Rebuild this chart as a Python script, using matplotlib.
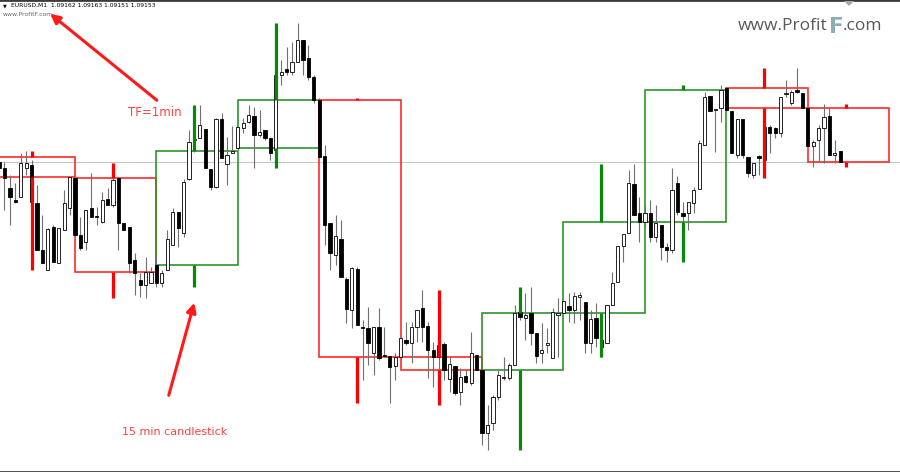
import matplotlib
matplotlib.use("Agg")
import matplotlib.pyplot as plt
import numpy as np
import pandas as pd
from matplotlib.patches import Rectangle, Polygon

# EURUSD M1 bars, prices in points above 1.08800 (1 point = 0.00001)
BASE = 1.088
POINT = 1e-5
BID = 1.09153

open_pts = [
    358, 353, 347, 327, 315, 318, 347, 350, 312, 265, 245, 288, 252, 285, 307,
    337, 280, 273, 307, 299, 293, 316, 310, 337, 292, 288, 255, 235, 230, 232,
    250, 232, 245, 270, 303, 282, 336, 375, 377, 386, 346, 328, 396, 351, 362,
    367, 387, 393, 399, 380, 385, 377, 365, 440, 446, 443, 453, 475, 457, 438,
    415, 359, 292, 260, 276, 236, 205, 246, 188, 187, 162, 188, 160, 159, 149,
    158, 175, 172, 188, 207, 189, 165, 158, 171, 136, 149, 123, 139, 132, 160,
    145, 82, 92, 118, 137, 137, 150, 203, 197, 202, 182, 162, 170, 157, 200,
    202, 209, 205, 218, 213, 172, 197, 175, 172, 210, 233, 269, 282, 331, 302,
    293, 302, 278, 290, 268, 265, 332, 302, 302, 312, 326, 370, 419, 405, 407,
    427, 404, 360, 396, 358, 340, 359, 355, 388, 387, 382, 421, 412, 425, 422,
    407, 369, 375, 387, 399, 360, 364,
]
high_pts = [
    360, 357, 353, 340, 332, 362, 364, 355, 330, 300, 287, 290, 287, 325, 338,
    339, 298, 305, 342, 308, 323, 327, 352, 337, 292, 288, 262, 242, 258, 248,
    257, 245, 285, 307, 303, 336, 385, 385, 410, 386, 346, 397, 402, 378, 389,
    388, 397, 410, 408, 405, 385, 377, 440, 455, 468, 473, 492, 475, 470, 440,
    417, 370, 292, 300, 295, 238, 248, 248, 195, 208, 188, 207, 188, 159, 162,
    177, 193, 193, 205, 225, 193, 173, 175, 173, 158, 149, 147, 145, 183, 160,
    145, 110, 120, 145, 158, 152, 210, 210, 222, 228, 182, 192, 187, 207, 217,
    214, 222, 223, 223, 213, 205, 212, 177, 210, 243, 269, 281, 345, 351, 318,
    310, 315, 310, 290, 272, 347, 339, 313, 313, 328, 375, 423, 419, 406, 430,
    427, 404, 396, 396, 358, 352, 360, 390, 390, 388, 418, 435, 425, 447, 422,
    407, 375, 390, 411, 408, 375, 364,
]
low_pts = [
    349, 320, 305, 290, 312, 318, 340, 312, 265, 252, 245, 253, 252, 285, 300,
    280, 265, 265, 298, 290, 292, 310, 308, 265, 285, 242, 220, 218, 217, 232,
    228, 228, 245, 270, 268, 278, 335, 363, 377, 347, 325, 327, 357, 330, 362,
    365, 382, 392, 347, 378, 375, 355, 362, 430, 440, 440, 453, 440, 435, 412,
    358, 270, 245, 250, 238, 192, 187, 190, 135, 150, 140, 155, 158, 112, 135,
    157, 170, 152, 173, 173, 137, 128, 145, 135, 123, 120, 110, 132, 130, 145,
    70, 65, 85, 115, 135, 135, 150, 195, 175, 170, 152, 152, 162, 157, 158,
    202, 193, 192, 195, 162, 162, 168, 158, 172, 210, 233, 253, 282, 300, 273,
    287, 273, 273, 255, 253, 262, 300, 285, 285, 302, 326, 370, 404, 363, 393,
    405, 362, 357, 357, 338, 337, 340, 355, 362, 377, 378, 418, 410, 422, 407,
    369, 348, 353, 352, 360, 352, 353,
]
close_pts = [
    353, 347, 337, 318, 313, 352, 352, 313, 265, 252, 286, 253, 287, 312, 338,
    280, 267, 305, 298, 298, 315, 310, 335, 292, 285, 252, 242, 230, 243, 243,
    232, 242, 276, 303, 287, 333, 373, 376, 390, 347, 328, 396, 357, 360, 364,
    388, 392, 400, 380, 383, 377, 362, 440, 443, 443, 453, 475, 455, 438, 415,
    358, 290, 262, 279, 238, 206, 247, 190, 187, 172, 188, 157, 159, 148, 158,
    177, 172, 188, 205, 188, 165, 158, 170, 145, 151, 122, 138, 133, 162, 145,
    82, 90, 118, 140, 138, 150, 202, 198, 200, 182, 159, 165, 172, 203, 202,
    214, 205, 219, 220, 172, 196, 177, 168, 210, 232, 269, 281, 332, 300, 293,
    302, 278, 292, 268, 265, 325, 303, 299, 313, 325, 372, 418, 404, 406, 425,
    405, 362, 396, 360, 342, 352, 357, 388, 382, 382, 418, 422, 423, 423, 407,
    369, 373, 387, 398, 360, 362, 353,
]

header = "EURUSD,M1  1.09162 1.09163 1.09151 1.09153"

W, H = 900, 472


def px(x, y):
    """Screen pixel (from top-left) to figure fraction."""
    return x / W, 1 - y / H


m1 = pd.DataFrame({"open": open_pts, "high": high_pts,
                   "low": low_pts, "close": close_pts}) * POINT + BASE
m1["bar"] = np.arange(len(m1))

m15 = m1.groupby(m1["bar"] // 15).agg(
    open=("open", "first"), high=("high", "max"),
    low=("low", "min"), close=("close", "last"))

fig = plt.figure(figsize=(W / 100, H / 100), dpi=100)
ax = fig.add_axes([0, 0, 1, 1])
ax.set_xlim(1.18, 167.0)
ax.set_ylim(BASE + 43 * POINT, BASE + 515 * POINT)
ax.set_xticks([])
ax.set_yticks([])
for side in ("left", "right"):
    ax.spines[side].set_visible(False)
for side in ("top", "bottom"):
    ax.spines[side].set_color("#3c3c3c")
    ax.spines[side].set_linewidth(2.0)

# bid line
ax.axhline(BID, color="#c8c8c8", lw=0.8, zorder=1)

# 15 min candles drawn as boxes over the M1 bars
for k, row in m15.iterrows():
    start = k * 15
    bull = row.close >= row.open
    box_col = "#2b962b" if bull else "#ff2a2a"
    wick_col = "#0a870a" if bull else "#ff0000"
    top, bot = max(row.open, row.close), min(row.open, row.close)
    ax.add_patch(Rectangle((start, bot), 15, top - bot, fill=False,
                           edgecolor=box_col, lw=1.2, zorder=2))
    mid = start + 7
    ax.vlines(mid, top, row.high, color=wick_col, lw=2.3, zorder=5)
    ax.vlines(mid, row.low, bot, color=wick_col, lw=2.3, zorder=5)

# M1 candles
ax.vlines(m1["bar"], m1["low"], m1["high"], color="#707070", lw=0.8, zorder=3)
for _, r in m1.iterrows():
    bull = r.close >= r.open
    top, bot = max(r.open, r.close), min(r.open, r.close)
    ax.add_patch(Rectangle((r.bar - 0.3, bot), 0.6, top - bot,
                           facecolor="white" if bull else "black",
                           edgecolor="black", lw=0.6, zorder=4))

# header texts
fig.text(*px(3, 5.5), "\u25bc", fontsize=3.5, color="black", va="center")
fig.text(*px(11, 5.5), header, fontsize=4.3, color="black", va="center")
fig.text(*px(3, 14), "www.ProfitF.com", fontsize=4.4, color="#666666", va="center")

# chart shift marker
fig.add_artist(Polygon([px(844, 1), px(854, 1), px(849, 6)], closed=True,
                       transform=fig.transFigure, color="#a8a8a8", lw=0))

# watermark
renderer = fig.canvas.get_renderer()
t1 = fig.text(*px(738, 30), "www.Profit", fontsize=12.5, color="#585858",
              family="Open Sans", va="baseline")
bb = t1.get_window_extent(renderer)
t2 = fig.text(bb.x1 / W + 1 / W, 1 - 33 / H, "F", fontsize=15.5,
              color="#8aaeb3", family="DejaVu Sans", weight="bold",
              va="baseline")
bb2 = t2.get_window_extent(renderer)
fig.text(bb2.x1 / W - 1 / W, 1 - 30 / H, ".com", fontsize=12.5, color="#585858",
         family="Open Sans", va="baseline")

# annotations
red = "#ff1a1a"
fig.text(*px(155, 113), "TF=1min", fontsize=8.5, color="#ff4040",
         ha="center", va="center")
fig.text(*px(175, 432), "15 min candlestick", fontsize=8.0, color="#ff4040",
         ha="center", va="center")
ax.annotate("", xy=px(48, 12), xytext=px(159, 102), xycoords="figure fraction",
            textcoords="figure fraction",
            arrowprops=dict(arrowstyle="-|>", color=red, lw=2.2, mutation_scale=14))
ax.annotate("", xy=px(195, 300), xytext=px(168, 398), xycoords="figure fraction",
            textcoords="figure fraction",
            arrowprops=dict(arrowstyle="-|>", color=red, lw=2.2, mutation_scale=14))

fig.savefig("out.png", dpi=100)
